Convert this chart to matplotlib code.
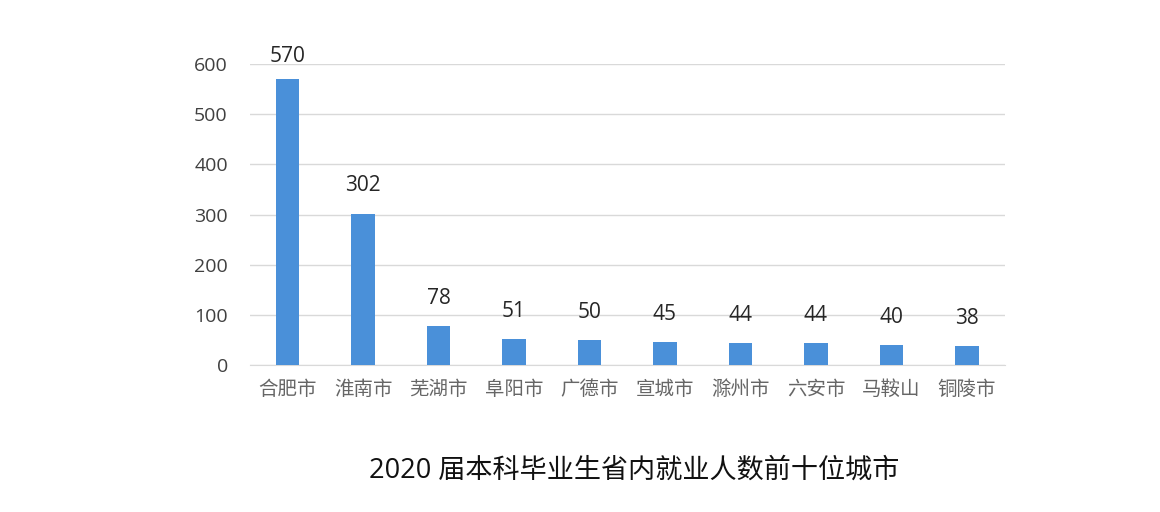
import matplotlib
matplotlib.use("Agg")
import matplotlib.pyplot as plt

plt.rcParams['font.family'] = ['Open Sans', 'Noto Sans CJK SC', 'DejaVu Sans']

cities = ["合肥市", "淮南市", "芜湖市", "阜阳市", "广德市", "宣城市", "滁州市", "六安市", "马鞍山", "铜陵市"]
values = [570, 302, 78, 51, 50, 45, 44, 44, 40, 38]
yticks = [0, 100, 200, 300, 400, 500, 600]
title = "2020 届本科毕业生省内就业人数前十位城市"

fig = plt.figure(figsize=(11.6, 5.12), dpi=100)
ax = fig.add_axes([0.2155, 0.287, 0.6505, 0.588])

x = list(range(len(cities)))
ax.bar(x, values, width=0.31, color="#4A90D9", zorder=3)
for xi, v in zip(x, values):
    off = 20 if v < 550 else 16
    ax.annotate(str(v), (xi, v), xytext=(0, off), textcoords="offset points",
                ha="center", va="center", fontsize=15, color="#262626", zorder=4)

ax.set_xlim(-0.5, len(cities) - 0.5)
ax.set_ylim(0, 600)
ax.set_yticks(yticks)
ax.set_yticklabels([str(t) for t in yticks], fontsize=14, color="#404040")
ax.set_xticks(x)
ax.set_xticklabels(cities, fontsize=14, color="#666666", family=['Noto Sans CJK SC', 'DejaVu Sans'])
ax.tick_params(axis='both', length=0)
ax.tick_params(axis='y', pad=16)
ax.tick_params(axis='x', pad=10)
ax.grid(axis='y', color="#D9D9D9", linewidth=1, zorder=0)
for s in ["top", "right", "left"]:
    ax.spines[s].set_visible(False)
ax.spines["bottom"].set_color("#D9D9D9")

fig.text(0.547, 0.08, title, ha="center", va="center", fontsize=19.5, color="#111111",
         fontweight="medium", family=['Open Sans', 'Noto Sans CJK SC', 'DejaVu Sans'])

fig.savefig("out.png", dpi=100, facecolor="white")
